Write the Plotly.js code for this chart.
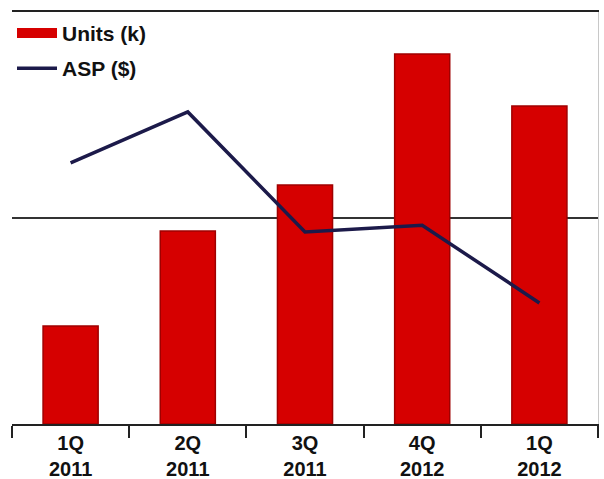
<!DOCTYPE html>
<html>
<head>
<meta charset="utf-8">
<script src="https://cdn.plot.ly/plotly-3.0.1.min.js"></script>
<style>
html,body{margin:0;padding:0;background:#fff;}
#chart{width:604px;height:479px;}
</style>
</head>
<body>
<div id="chart"></div>
<script>
// Data
var quarters = ["1Q<br>2011", "2Q<br>2011", "3Q<br>2011", "4Q<br>2012", "1Q<br>2012"];
var unitsK = [476, 937, 1160, 1796, 1544];
var aspUSD = [507, 606, 373, 386, 235];

var FONT = "Liberation Sans, Arial, sans-serif";

var traces = [
  {
    type: "bar",
    name: "Units (k)",
    x: quarters,
    y: unitsK,
    width: 0.47,
    showlegend: false,
    marker: {color: "#d60000", line: {color: "#a00000", width: 1.5}},
    yaxis: "y"
  },
  {
    // legend entry for the bars, drawn as a wide red swatch
    type: "scatter",
    mode: "lines",
    name: "Units (k)",
    legendgroup: "u",
    x: [null],
    y: [null],
    line: {color: "#d60000", width: 13},
    yaxis: "y"
  },
  {
    type: "scatter",
    mode: "lines",
    name: "ASP ($)",
    legendgroup: "a",
    x: quarters,
    y: aspUSD,
    line: {color: "#1c1a4a", width: 3.5},
    yaxis: "y2"
  }
];

var layout = {
  width: 604,
  height: 479,
  margin: {l: 12, r: 6, t: 12, b: 55},
  paper_bgcolor: "#ffffff",
  plot_bgcolor: "#ffffff",
  font: {family: FONT, size: 20, color: "#111111"},
  showlegend: true,
  legend: {
    x: 0, y: 0.998, xanchor: "left", yanchor: "top",
    bgcolor: "rgba(0,0,0,0)",
    font: {family: FONT, size: 21, color: "#111111", weight: "bold"},
    itemwidth: 40,
    tracegroupgap: 5
  },
  bargap: 0.5,
  xaxis: {
    type: "category",
    range: [-0.5, 4.5],
    showline: true,
    mirror: true,
    linecolor: "#222222",
    linewidth: 2,
    ticks: "outside",
    tickson: "boundaries",
    ticklen: 12,
    tickwidth: 2,
    tickcolor: "#222222",
    showgrid: false,
    tickfont: {family: FONT, size: 20, color: "#111111", weight: "bold"},
    fixedrange: true
  },
  yaxis: {
    range: [0, 2000],
    dtick: 1000,
    showticklabels: false,
    showgrid: true,
    gridcolor: "#333333",
    gridwidth: 2,
    zeroline: false,
    ticks: "",
    fixedrange: true
  },
  yaxis2: {
    range: [0, 800],
    overlaying: "y",
    side: "right",
    showticklabels: false,
    showgrid: false,
    zeroline: false,
    showline: true,
    linecolor: "#c8c8c8",
    linewidth: 1,
    ticks: "",
    fixedrange: true
  }
};

Plotly.newPlot("chart", traces, layout, {displayModeBar: false, staticPlot: true});
</script>
</body>
</html>
